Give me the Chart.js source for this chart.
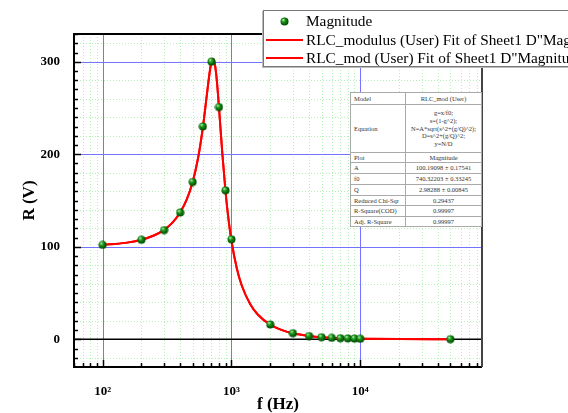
<!DOCTYPE html>
<html>
<head>
<meta charset="utf-8">
<script src="https://cdn.jsdelivr.net/npm/chart.js@4"></script>
<style>
  html, body { margin: 0; padding: 0; background: #fff; overflow: hidden; }
  #wrap { position: relative; width: 568px; height: 413px; overflow: hidden; font-family: "Liberation Serif", serif; }
  #legend { position: absolute; left: 263px; top: 10px; width: 360px; height: 55px; background: #fff;
    border: 1px solid #777; box-shadow: -1px 1px 0 #bbb; }
  .lg-row { position: absolute; left: 0; height: 18px; line-height: 18px; font-size: 15.3px; color: #000; white-space: nowrap; }
  .lg-mark { position: absolute; left: 2px; top: 0; width: 37px; height: 18px; }
  .lg-text { position: absolute; left: 42px; top: 0; }
  #fit-table { position: absolute; left: 350px; top: 92px; border-collapse: collapse; background: #fff;
    border: 1px solid #888; font-size: 6.5px; color: #333; }
  #fit-table td { border: 1px solid #aaa; padding: 0 3px; line-height: 7.8px; }
  #fit-table td.k { width: 48px; text-align: left; }
  #fit-table td.v { width: 69px; text-align: center; }
</style>
</head>
<body>
<div id="wrap">
  <canvas id="chart" width="568" height="413"></canvas>
  <div id="legend"></div>
  <table id="fit-table"></table>
</div>
<script>
// Résonance RLC - amplitude mesurée et courbe ajustée

const freqHz = [100, 200, 300, 400, 500, 600, 700, 800, 900, 1000,
  2000, 3000, 4000, 5000, 6000, 7000, 8000, 9000, 10000, 50000];
const magnitude = [102, 107.5, 118, 137, 170, 230, 300, 251, 161, 108,
  16, 6.5, 3.5, 2.2, 1.5, 1.1, 0.9, 0.7, 0.5, 0.1];

// courbe rouge
const fitFreq = [100, 150, 200, 250, 300, 350, 400, 450, 500, 550, 600, 650, 680, 700,
  720, 740, 760, 780, 800, 850, 900, 950, 1000, 1100, 1200, 1400, 1600, 2000,
  2500, 3000, 4000, 5000, 7000, 10000, 20000, 50000];
const fitValue = [101.9, 104.2, 107.6, 112.2, 118.3, 126.4, 137.1, 151.2, 170.1, 195.4, 228.9, 268.6, 290.1, 299.8,
  303.1, 299.0, 287.6, 270.8, 251.0, 200.6, 159.5, 129.0, 106.5, 76.7, 58.4, 37.8, 26.8, 15.8,
  9.6, 6.5, 3.6, 2.2, 1.1, 0.55, 0.14, 0.02];

const xTicks = [100, 1000, 10000];
const yTicks = [0, 100, 200, 300];

const legendLabels = [
  "Magnitude",
  "RLC_modulus (User) Fit of Sheet1 D\"Magnitude\"",
  "RLC_mod (User) Fit of Sheet1 D\"Magnitude\"",
];

const tableKeys = ["Model", "Equation", "Plot", "A", "f0", "Q", "Reduced Chi-Sqr", "R-Square(COD)", "Adj. R-Square"];
const tableValues = [
  ["RLC_mod (User)"],
  ["g=x/f0;", "s=(1-g^2);", "N=A*sqrt(s^2+(g/Q)^2);", "D=s^2+(g/Q)^2;", "y=N/D"],
  ["Magnitude"],
  ["100.19098 ± 0.17541"],
  ["740.32203 ± 0.33245"],
  ["2.98288 ± 0.00845"],
  ["0.29437"],
  ["0.99997"],
  ["0.99997"],
];
const tableRowHeights = [12, 48, 10, 11, 11, 11, 10, 11, 10];

const FONT = "'Liberation Serif', 'Times New Roman', serif";
const SUP = { 2: "\u00b2", 3: "\u00b3", 4: "\u2074" };

// boule verte pour les points
function makeBall(r) {
  const c = document.createElement("canvas");
  c.width = c.height = r * 2 + 1;
  const g = c.getContext("2d");
  const grad = g.createRadialGradient(r * 0.8, r * 0.7, 0.5, r, r, r);
  grad.addColorStop(0, "#9be89b");
  grad.addColorStop(0.35, "#1f9a1f");
  grad.addColorStop(1, "#005000");
  g.fillStyle = grad;
  g.beginPath();
  g.arc(r + 0.5, r + 0.5, r, 0, Math.PI * 2);
  g.fill();
  return c;
}
const ball = makeBall(4);

const framePlugin = {
  id: "frame",
  beforeDatasetsDraw(chart) {
    const { ctx, chartArea: a, scales } = chart;
    const xs = scales.x, ys = scales.y;
    ctx.save();
    ctx.beginPath();
    ctx.rect(a.left, a.top, a.right - a.left, a.bottom - a.top);
    ctx.clip();

    // grille mineure verte pointillée
    ctx.strokeStyle = "rgba(175,238,175,0.9)";
    ctx.lineWidth = 1;
    ctx.setLineDash([1, 2]);
    for (let d = 10; d <= 100000; d *= 10) {
      for (let m = 2; m <= 9; m++) {
        const px = Math.round(xs.getPixelForValue(d * m)) + 0.5;
        ctx.beginPath(); ctx.moveTo(px, a.top); ctx.lineTo(px, a.bottom); ctx.stroke();
      }
    }
    for (let v = -20; v <= 320; v += 20) {
      if (v % 100 === 0) continue;
      const py = Math.round(ys.getPixelForValue(v)) + 0.5;
      ctx.beginPath(); ctx.moveTo(a.left, py); ctx.lineTo(a.right, py); ctx.stroke();
    }
    ctx.setLineDash([]);

    // grille majeure bleue
    ctx.strokeStyle = "#7373ff";
    xTicks.forEach((v) => {
      const px = Math.round(xs.getPixelForValue(v)) + 0.5;
      ctx.beginPath(); ctx.moveTo(px, a.top); ctx.lineTo(px, a.bottom); ctx.stroke();
    });
    yTicks.forEach((v) => {
      if (v === 0) return;
      const py = Math.round(ys.getPixelForValue(v)) + 0.5;
      ctx.beginPath(); ctx.moveTo(a.left, py); ctx.lineTo(a.right, py); ctx.stroke();
    });

    // ligne du zéro
    ctx.strokeStyle = "#000";
    ctx.lineWidth = 1.5;
    const y0 = ys.getPixelForValue(0);
    ctx.beginPath(); ctx.moveTo(a.left, y0); ctx.lineTo(a.right, y0); ctx.stroke();
    ctx.restore();
  },
  afterDatasetsDraw(chart) {
    const { ctx, chartArea: a, scales } = chart;
    const xs = scales.x, ys = scales.y;
    ctx.save();
    ctx.strokeStyle = "#000";
    ctx.lineWidth = 1.5;

    // graduations intérieures
    for (let v = -30; v <= 330; v += 10) {
      const py = Math.round(ys.getPixelForValue(v)) + 0.5;
      if (py < a.top || py > a.bottom) continue;
      const len = v % 100 === 0 ? 7 : 4;
      ctx.beginPath(); ctx.moveTo(a.left, py); ctx.lineTo(a.left + len, py); ctx.stroke();
    }
    for (let d = 10; d <= 100000; d *= 10) {
      for (let m = 1; m <= 9; m++) {
        const px = Math.round(xs.getPixelForValue(d * m)) + 0.5;
        if (px < a.left || px > a.right) continue;
        const len = m === 1 ? 7 : 4;
        ctx.beginPath(); ctx.moveTo(px, a.bottom); ctx.lineTo(px, a.bottom - len); ctx.stroke();
      }
    }

    // cadre
    ctx.lineWidth = 2;
    ctx.strokeStyle = "#000";
    ctx.beginPath();
    ctx.moveTo(a.right, a.top); ctx.lineTo(a.left, a.top);
    ctx.lineTo(a.left, a.bottom); ctx.lineTo(a.right, a.bottom);
    ctx.stroke();
    ctx.strokeStyle = "#444";
    ctx.beginPath(); ctx.moveTo(a.right, a.top); ctx.lineTo(a.right, a.bottom); ctx.stroke();
    ctx.restore();
  },
};

const fitPoints = fitFreq.map((f, i) => ({ x: f, y: fitValue[i] }));

const chart = new Chart(document.getElementById("chart"), {
  type: "scatter",
  data: {
    datasets: [
      {
        label: legendLabels[0],
        data: freqHz.map((f, i) => ({ x: f, y: magnitude[i] })),
        pointStyle: ball,
        order: 0,
      },
      {
        label: legendLabels[1],
        data: fitPoints,
        showLine: true,
        borderColor: "#ff0000",
        borderWidth: 2,
        pointRadius: 0,
        cubicInterpolationMode: "monotone",
        order: 1,
      },
      {
        label: legendLabels[2],
        data: fitPoints,
        showLine: true,
        borderColor: "#ff0000",
        borderWidth: 2,
        pointRadius: 0,
        cubicInterpolationMode: "monotone",
        order: 2,
      },
    ],
  },
  options: {
    responsive: false,
    animation: false,
    layout: { padding: { left: 0, top: 34, right: 86, bottom: 0 } },
    plugins: { legend: { display: false }, tooltip: { enabled: false } },
    scales: {
      x: {
        type: "logarithmic",
        min: 60,
        max: 88000,
        grid: { display: false },
        border: { display: false },
        afterBuildTicks: (scale) => { scale.ticks = xTicks.map((v) => ({ value: v })); },
        afterFit: (scale) => { scale.height = 46; },
        ticks: {
          color: "#000",
          padding: 9,
          maxRotation: 0,
          font: { family: FONT, size: 13, weight: "bold" },
          callback: (v) => "10" + SUP[Math.round(Math.log10(v))],
        },
        title: {
          display: true,
          text: "f (Hz)",
          color: "#000",
          padding: { top: 0, bottom: 0 },
          font: { family: FONT, size: 17, weight: "bold", lineHeight: 1 },
        },
      },
      y: {
        min: -30,
        max: 330,
        grid: { display: false },
        border: { display: false },
        afterBuildTicks: (scale) => { scale.ticks = yTicks.map((v) => ({ value: v })); },
        afterFit: (scale) => { scale.width = 74; },
        ticks: {
          color: "#000",
          padding: 6,
          font: { family: FONT, size: 13, weight: "bold" },
        },
        title: {
          display: true,
          text: "R (V)",
          color: "#000",
          padding: { top: 21, bottom: 0 },
          font: { family: FONT, size: 17, weight: "bold", lineHeight: 1 },
        },
      },
    },
  },
  plugins: [framePlugin],
});

// légende façon Origin
function buildLegend() {
  const box = document.getElementById("legend");
  chart.data.datasets.forEach((ds, i) => {
    const row = document.createElement("div");
    row.className = "lg-row";
    row.style.top = (1 + i * 18.5) + "px";
    const mark = document.createElement("canvas");
    mark.className = "lg-mark";
    mark.width = 37; mark.height = 18;
    const g = mark.getContext("2d");
    if (ds.showLine) {
      g.strokeStyle = ds.borderColor;
      g.lineWidth = 2;
      g.beginPath(); g.moveTo(0, 9); g.lineTo(37, 9); g.stroke();
    } else {
      g.drawImage(ball, 14, 5);
    }
    const txt = document.createElement("span");
    txt.className = "lg-text";
    txt.textContent = ds.label;
    row.appendChild(mark);
    row.appendChild(txt);
    box.appendChild(row);
  });
}

function buildTable() {
  const table = document.getElementById("fit-table");
  tableKeys.forEach((k, i) => {
    const tr = document.createElement("tr");
    tr.style.height = tableRowHeights[i] + "px";
    tr.innerHTML = `<td class="k">${k}</td><td class="v">${tableValues[i].join("<br>")}</td>`;
    table.appendChild(tr);
  });
}

buildLegend();
buildTable();
</script>
</body>
</html>
